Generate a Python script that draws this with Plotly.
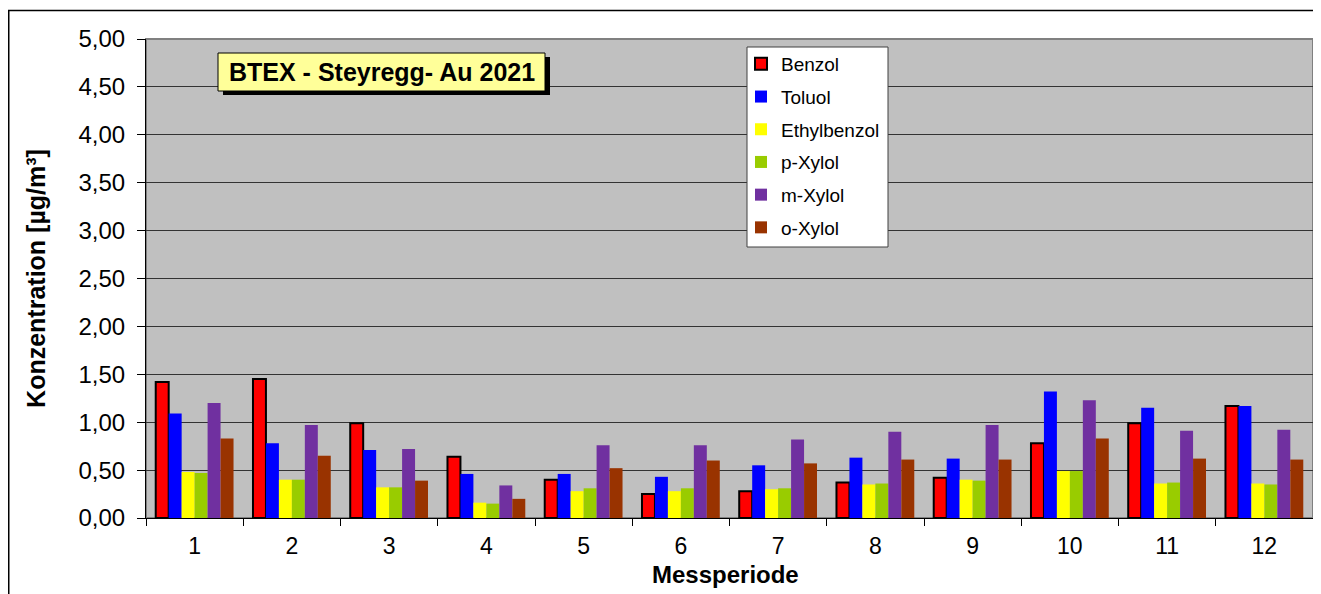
import plotly.graph_objects as go

# ---- data ----
perioden = ["1", "2", "3", "4", "5", "6", "7", "8", "9", "10", "11", "12"]
benzol      = [1.42, 1.45, 0.99, 0.64, 0.40, 0.25, 0.28, 0.37, 0.42, 0.78, 0.99, 1.17]
toluol      = [1.09, 0.78, 0.71, 0.46, 0.46, 0.43, 0.55, 0.63, 0.62, 1.32, 1.15, 1.17]
ethylbenzol = [0.48, 0.40, 0.32, 0.16, 0.28, 0.28, 0.30, 0.35, 0.40, 0.49, 0.36, 0.36]
p_xylol     = [0.47, 0.40, 0.32, 0.15, 0.31, 0.31, 0.31, 0.36, 0.39, 0.49, 0.37, 0.35]
m_xylol     = [1.20, 0.97, 0.72, 0.34, 0.76, 0.76, 0.82, 0.90, 0.97, 1.23, 0.91, 0.92]
o_xylol     = [0.83, 0.65, 0.39, 0.20, 0.52, 0.60, 0.57, 0.61, 0.61, 0.83, 0.62, 0.61]
y_ticks = [0, 0.5, 1.0, 1.5, 2.0, 2.5, 3.0, 3.5, 4.0, 4.5, 5.0]

FONT = "Arial, 'Liberation Sans', sans-serif"
OFF = 8                      # page body margin
W, H = 1321 - OFF, 594 - OFF
L, R, T, B = 146, 1313, 39, 518   # plot area in screen pixels

def px(p):
    return (p - L) / (R - L)

def py(p):
    return (B - p) / (B - T)

series = [
    ("Benzol", benzol, "#FF0000", dict(color="#000000", width=2)),
    ("Toluol", toluol, "#0000FF", dict(width=0)),
    ("Ethylbenzol", ethylbenzol, "#FFFF00", dict(width=0)),
    ("p-Xylol", p_xylol, "#99CC00", dict(width=0)),
    ("m-Xylol", m_xylol, "#7030A0", dict(width=0)),
    ("o-Xylol", o_xylol, "#993300", dict(width=0)),
]

fig = go.Figure()
for name, vals, col, line in series:
    fig.add_trace(go.Bar(
        x=perioden, y=vals, name=name, legendgroup=name,
        marker=dict(color=col, line=line),
    ))

fig.update_layout(
    width=W, height=H,
    margin=dict(l=L - OFF, r=W - (R - OFF), t=T - OFF, b=H - (B - OFF), autoexpand=False),
    paper_bgcolor="white",
    plot_bgcolor="#C0C0C0",
    separators=",.",
    barmode="group",
    bargap=0.2,
    bargroupgap=0,
    font=dict(family=FONT, color="black"),
    showlegend=True,
    legend=dict(
        x=px(741), y=py(45), xanchor="left", yanchor="top",
        bgcolor="rgba(0,0,0,0)", borderwidth=0,
        font=dict(family=FONT, size=19, color="black"),
        tracegroupgap=5, traceorder="grouped",
    ),
)

fig.update_xaxes(
    type="category",
    tickson="boundaries",
    ticks="outside", ticklen=7, tickcolor="black", tickwidth=1,
    showline=True, linecolor="black", linewidth=1,
    showgrid=False,
    tickfont=dict(family=FONT, size=23, color="black"),
    ticklabelstandoff=7,
)

fig.update_yaxes(
    range=[0, 5],
    tickvals=y_ticks,
    tickformat=".2f",
    ticks="outside", ticklen=8, tickcolor="black", tickwidth=1,
    showline=True, linecolor="black", linewidth=1,
    showgrid=True, gridcolor="#333333", gridwidth=1,
    zeroline=False,
    tickfont=dict(family=FONT, size=24, color="black"),
    ticklabelstandoff=7,
    title=dict(text="<b>Konzentration [µg/m³]</b>", font=dict(family=FONT, size=25, color="black"), standoff=25),
)

shapes = []
# outer chart border
shapes.append(dict(type="rect", xref="paper", yref="paper",
                   x0=px(8.75), x1=px(1319.5), y0=py(10.5), y1=py(640),
                   line=dict(color="black", width=1.5), fillcolor="rgba(0,0,0,0)", layer="below"))
# plot area border (top/right gray)
shapes.append(dict(type="rect", xref="paper", yref="paper",
                   x0=0, x1=1, y0=0, y1=1,
                   line=dict(color="#808080", width=2), fillcolor="rgba(0,0,0,0)", layer="below"))
# title box shadow
shapes.append(dict(type="rect", xref="paper", yref="paper",
                   x0=px(223), x1=px(550), y0=py(95), y1=py(57),
                   line=dict(width=0), fillcolor="black", layer="above"))
# title box
shapes.append(dict(type="rect", xref="paper", yref="paper",
                   x0=px(218), x1=px(545), y0=py(91), y1=py(53),
                   line=dict(color="black", width=1), fillcolor="#FFFF99", layer="above"))
# legend box
shapes.append(dict(type="rect", xref="paper", yref="paper",
                   x0=px(747), x1=px(888), y0=py(247), y1=py(47),
                   line=dict(color="#404040", width=1), fillcolor="white", layer="above"))
fig.update_layout(shapes=shapes)

fig.add_annotation(
    x=px(381.5), y=py(72), xref="paper", yref="paper",
    text="<b>BTEX - Steyregg- Au 2021</b>", showarrow=False,
    font=dict(family=FONT, size=25, color="black"),
    xanchor="center", yanchor="middle",
)
# x-axis title
fig.add_annotation(
    x=px(725), y=py(574), xref="paper", yref="paper",
    text="<b>Messperiode</b>", showarrow=False,
    font=dict(family=FONT, size=24, color="black"),
    xanchor="center", yanchor="middle",
)

fig.write_html("out.html")
